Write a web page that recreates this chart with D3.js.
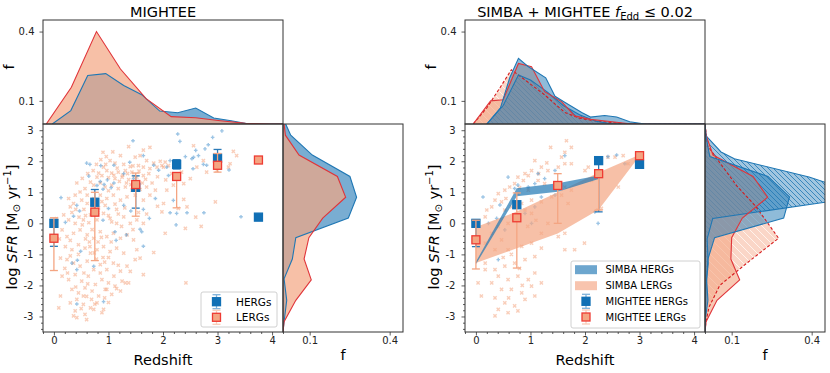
<!DOCTYPE html>
<html>
<head>
<meta charset="utf-8">
<script src="https://cdn.jsdelivr.net/npm/d3@7"></script>
<style>
body { margin:0; background:#fff; }
text { font-family: "DejaVu Sans", sans-serif; }
</style>
</head>
<body>
<div id="chart"></div>
<script>
// ---------- data ----------
// MIGHTEE medians per redshift bin
var herg_z  = [0, 0.75, 1.5, 2.25, 3, 3.75];
var herg_y  = [0, 0.68, 1.16, 1.9, 2.1, 0.2];
var herg_lo = [-0.74, 0.27, 0.49, 1.75, 1.95, null];
var herg_hi = [0.12, 1.09, 1.53, 2.05, 2.38, null];

var lerg_z  = [0, 0.75, 1.5, 2.25, 3, 3.75];
var lerg_y  = [-0.48, 0.36, 1.25, 1.51, 1.87, 2.04];
var lerg_lo = [-1.52, -1.2, 0.23, 0.5, 1.65, null];
var lerg_hi = [0.18, 1.0, 1.62, 1.6, 2.25, null];

// f_Edd <= 0.02 subset
var herg2_z  = [0, 0.75, 2.25, 3];
var herg2_y  = [0, 0.6, 2.02, 1.9];
var herg2_lo = [-0.75, 0.5, 0.37, null];
var herg2_hi = [0.1, 0.7, 2.1, null];

var lerg2_z  = [0, 0.75, 1.5, 2.25, 3];
var lerg2_y  = [-0.53, 0.18, 1.22, 1.6, 2.18];
var lerg2_lo = [-1.47, -1.44, 0.0, 0.43, null];
var lerg2_hi = [0.1, 0.98, 1.6, 1.7, null];

// SIMBA bands
var simbaHerg_z  = [0, 0.75, 1.5, 2.25];
var simbaHerg_lo = [-1.32, 0.87, 1.02, 1.43];
var simbaHerg_hi = [-1.24, 1.13, 1.29, 1.54];
var simbaLerg_z  = [0, 0.75, 1.5, 2.25, 3];
var simbaLerg_lo = [-1.28, -0.8, -0.33, 0.44, 2.17];
var simbaLerg_hi = [-0.12, 0.38, 1.0, 1.64, 2.21];

// redshift histograms [z, f]
var topHerg = [[-0.03,0],[0.31,0.058],[0.62,0.21],[0.95,0.218],[1.28,0.167],[1.61,0.127],[1.94,0.056],[2.27,0.049],[2.6,0.069],[2.93,0.026],[3.25,0.014],[3.58,0],[4.2,0]];
var topLerg = [[-0.14,0],[0.32,0.159],[0.78,0.40],[1.22,0.238],[1.69,0.11],[2.15,0.032],[2.6,0.027],[3.05,0.014],[3.51,0.003],[3.97,0],[4.2,0]];
var topHerg2 = [[0.2,0],[0.45,0.07],[0.62,0.2],[0.78,0.284],[0.95,0.25],[1.28,0.2],[1.45,0.12],[1.62,0.095],[1.94,0.05],[2.1,0.03],[2.36,0.037],[2.58,0.03],[2.82,0.01],[3.1,0],[4.2,0]];
var topLerg2 = [[-0.05,0],[0.27,0.1],[0.5,0.105],[0.78,0.262],[1.02,0.248],[1.26,0.14],[1.57,0.097],[1.81,0.035],[2.1,0.02],[2.5,0.01],[2.85,0],[4.2,0]];
var topSimbaHerg = [[0.2,0],[0.5,0.08],[0.78,0.212],[1.0,0.19],[1.3,0.14],[1.6,0.08],[1.9,0.04],[2.2,0.012],[2.5,0],[4.2,0]];
var topSimbaLerg = [[-0.05,0],[0.2,0.07],[0.45,0.16],[0.65,0.235],[0.96,0.18],[1.26,0.126],[1.63,0.05],[1.9,0.025],[2.3,0.01],[2.8,0],[4.2,0]];

// SFR histograms [logSFR, f]
var sideHerg = [[3.2,0.01],[2.84,0.029],[2.2,0.11],[1.51,0.251],[0.84,0.276],[0.17,0.245],[-0.46,0.048],[-1.15,0.035],[-1.79,0.004],[-2.48,0.014],[-3.17,0.004],[-3.5,0]];
var sideLerg = [[3.2,0.004],[2.84,0.009],[2.2,0.06],[1.51,0.204],[0.84,0.235],[0.17,0.149],[-0.46,0.097],[-1.15,0.079],[-1.82,0.106],[-2.48,0.048],[-3.17,0.004],[-3.5,0]];
var sideHerg2 = [[3.2,0],[2.84,0.003],[2.15,0.018],[1.51,0.236],[0.85,0.317],[0.17,0.295],[-0.46,0.036],[-1.15,0.011],[-1.79,0.006],[-2.48,0.011],[-3.17,0],[-3.5,0]];
var sideLerg2 = [[3.2,0],[2.84,0.004],[2.2,0.03],[1.51,0.18],[0.84,0.235],[0.17,0.14],[-0.46,0.1],[-1.15,0.097],[-1.82,0.13],[-2.48,0.045],[-3.17,0.004],[-3.5,0]];
var sideSimbaHerg = [[3.2,0],[2.82,0.004],[2.3,0.06],[2.08,0.11],[1.49,0.39],[1.05,0.55],[0.69,0.46],[0.16,0.029],[-0.5,0.008],[-1.3,0.012],[-2.0,0.004],[-3.2,0],[-3.5,0]];
var sideSimbaLerg = [[3.2,0],[2.5,0.01],[1.9,0.06],[1.2,0.12],[0.55,0.19],[-0.48,0.276],[-1.26,0.16],[-2.0,0.055],[-2.7,0.015],[-3.2,0.003],[-3.5,0]];

// individual sources [z, logSFR]
var ptsLerg = [[0.90,2.29],[1.37,2.47],[1.64,2.36],[1.76,2.45],[1.58,2.18],[1.49,2.13],[1.22,2.18],[1.70,2.02],[1.83,1.94],[1.95,2.0],[1.03,2.02],[1.12,1.94],[1.28,1.90],[1.40,1.83],[1.55,1.86],[1.64,1.81],[1.76,1.76],[1.89,1.81],[1.98,1.86],[0.91,1.81],[0.97,1.70],[1.06,1.62],[1.18,1.65],[1.31,1.70],[1.43,1.65],[0.79,1.49],[0.88,1.54],[1.0,1.47],[1.12,1.44],[1.25,1.49],[1.37,1.41],[1.52,1.49],[1.64,1.54],[0.67,1.33],[0.73,1.23],[0.85,1.30],[0.94,1.17],[1.06,1.23],[1.18,1.12],[1.31,1.17],[1.43,1.07],[1.58,1.09],[1.70,1.17],[1.86,1.07],[0.57,1.12],[0.48,1.01],[0.39,0.91],[0.61,0.91],[0.51,0.75],[0.36,0.64],[0.30,0.53],[0.61,0.64],[0.73,0.80],[0.85,0.91],[0.97,0.80],[1.09,0.91],[1.22,0.75],[1.34,0.85],[1.49,0.91],[1.64,0.75],[1.76,0.91],[1.98,0.37],[0.18,0.27],[0.27,0.11],[0.39,0.0],[0.54,0.11],[0.67,0.27],[0.79,0.11],[0.91,0.32],[1.03,0.16],[1.15,0.0],[1.28,0.21],[1.40,0.0],[1.52,0.11],[1.64,0.0],[0.15,-0.21],[0.24,-0.43],[0.36,-0.32],[0.48,-0.21],[0.61,-0.37],[0.73,-0.48],[0.85,-0.27],[0.97,-0.43],[1.09,-0.32],[1.22,-0.48],[1.34,-0.37],[1.46,-0.53],[0.21,-0.75],[0.33,-0.85],[0.45,-0.69],[0.57,-0.80],[0.67,-0.96],[0.79,-0.85],[0.91,-0.75],[1.03,-0.91],[1.15,-0.80],[1.28,-0.96],[1.52,-0.85],[1.58,-1.12],[0.12,-1.12],[0.24,-1.17],[0.36,-1.28],[0.48,-1.38],[0.61,-1.22],[0.73,-1.49],[0.85,-1.33],[0.97,-1.49],[1.09,-1.28],[1.22,-1.54],[1.34,-1.38],[0.15,-1.70],[0.27,-1.81],[0.39,-1.65],[0.51,-1.86],[0.63,-1.70],[0.76,-1.97],[0.88,-1.81],[1.0,-1.92],[1.12,-2.02],[1.25,-1.86],[1.37,-1.92],[1.64,-1.65],[0.33,-2.13],[0.45,-2.24],[0.57,-2.08],[0.70,-2.18],[0.82,-2.34],[0.94,-2.13],[1.06,-2.29],[0.12,-2.34],[0.30,-2.56],[0.42,-2.45],[0.54,-2.61],[0.67,-2.72],[0.79,-2.56],[0.91,-2.77],[0.54,-2.34],[0.39,-2.82],[0.57,-2.93],[0.73,-2.77],[0.88,-2.88],[0.36,-2.98],[0.42,-3.04],[0.97,-2.13],[1.22,-2.18],[0.09,-2.72],[1.31,-1.92],[1.49,-1.17],
  [2.56,2.50],[2.04,1.97],[2.01,1.81],[2.10,1.86],[2.16,1.60],[2.34,1.65],[2.38,1.28],[2.50,1.44],[2.62,1.81],[2.80,1.65],[2.96,0.69],[3.23,1.92],[3.29,2.32],[3.35,2.18],[2.04,-0.32],[2.41,-0.16],[2.44,0.53],[2.38,0.77],[2.28,0.48],[2.42,-1.92],[3.2,1.81],[2.99,1.7],[2.74,2.02],[2.25,1.97],[2.07,1.07],[2.19,1.23],[2.01,0.64],
  [2.7,-0.1],[1.83,-0.94],[2.6,0.2],[0.05,0.15],[0.1,-0.5],[0.82,1.62],[0.95,1.9],[1.1,1.55],[1.2,1.35],[1.35,1.6],[1.45,1.85],[1.0,1.05],[0.7,0.55],[0.8,0.35],[0.55,0.45],[1.15,0.45],[1.3,0.5],[0.45,-1.0],[0.65,-0.6],[0.9,-1.1],[1.05,-0.6],[0.3,-0.55],[0.2,-1.45],[0.6,-2.35],[0.78,-1.15],
  [0.42,1.3],[0.52,1.45],[0.62,1.6],[0.72,1.7],[0.78,1.9],[0.86,2.05],[0.96,2.15],[1.08,2.3],[1.16,1.78],[1.26,1.55],[1.33,1.3],[1.41,1.25],[1.47,1.52],[1.56,1.68],[1.62,1.3],[1.68,1.42],[1.74,1.6],[1.8,1.3],[0.58,0.25],[0.64,0.02],[0.7,-0.2],[0.76,0.6],[0.82,0.5],[0.88,0.7],[0.94,0.58],[1.0,0.25],[1.06,0.05],[1.12,0.62],[1.18,0.3],[1.24,-0.1],[0.27,0.8],[0.33,0.35],[0.4,0.45],[0.46,0.2],[0.52,-0.05],[0.58,-0.5],[0.66,-0.75],[0.74,-0.95],[0.81,-0.6],[0.87,-0.45],[0.93,-1.25],[1.0,-1.1],[1.1,-1.7],[1.18,-1.35],[0.55,-1.6],[0.62,-1.95],[0.69,-2.45],[0.75,-2.6],[0.85,-1.6],[0.93,-2.4],[0.3,-1.05],[0.25,-1.6],[0.4,-2.05],[0.5,-2.75],[0.6,-3.1],[1.0,-2.55],[1.15,-2.1],[1.4,-1.55],[1.45,-0.2],[1.55,0.35],[1.7,0.3],[1.9,0.55],[1.9,1.5],[2.05,1.4]];
var ptsHerg = [[1.45,2.66],[0.6,1.94],[0.66,1.9],[0.86,1.86],[1.1,1.87],[1.28,1.6],[0.64,1.52],[0.79,1.22],[0.85,1.35],[0.92,1.25],[0.98,1.4],[1.05,1.15],[1.1,1.3],[0.9,1.1],[0.13,0.83],[0.42,0.58],[0.47,0.4],[0.36,0.23],[0.21,0.03],[0.9,0.1],[1.0,0.48],[1.28,0.58],[1.41,0.4],[1.64,0.45],[1.75,0.16],[1.58,-0.19],[1.61,-0.27],[1.33,-0.37],[1.12,-0.27],[1.14,-0.55],[1.64,-0.74],[0.49,-0.9],[0.43,-1.19],[0.42,-1.49],[0.33,-1.28],[0.73,-1.38],[0.91,-2.52],[0.42,-2.6],[1.86,0.8],[1.92,1.71],[1.83,1.87],[1.64,2.18],[1.46,1.44],[1.39,1.97],[2.27,2.88],[2.31,2.64],[3.08,2.98],[2.91,2.77],[2.83,2.53],[2.77,2.4],[2.65,2.18],[2.56,2.13],[2.53,2.08],[2.41,2.15],[2.74,1.9],[2.8,1.87],[2.55,1.76],[2.13,2.02],[2.07,1.81],[2.1,1.54],[2.19,0.74],[2.13,0.34],[2.25,0.32],[2.44,0.34],[2.75,0.34],[3.43,0.21],[2.24,-0.05],[3.21,1.72],[2.6,2.35]];
var ptsLerg2 = [[1.66,2.66],[1.37,2.45],[1.75,2.45],[1.63,2.29],[1.57,2.13],[1.75,1.92],[1.63,1.92],[1.51,1.81],[1.32,1.70],[1.20,1.81],[1.08,2.02],[1.02,1.70],[0.96,1.54],[0.87,1.38],[0.77,1.49],[0.71,1.28],[0.62,1.17],[0.53,1.07],[0.41,0.96],[0.35,0.75],[0.47,0.69],[0.29,0.53],[0.20,0.43],[0.17,0.21],[0.53,0.43],[0.65,0.53],[0.84,0.64],[1.02,0.75],[1.20,0.69],[1.39,0.85],[1.57,0.91],[1.69,0.64],[1.75,1.07],[1.63,1.17],[1.26,1.28],[1.14,1.38],[0.96,1.07],[0.77,0.96],[0.90,0.43],[1.02,0.32],[0.71,0.11],[0.59,0.0],[0.41,-0.11],[0.29,-0.32],[0.47,-0.53],[0.17,-0.64],[0.35,-0.85],[0.59,-0.85],[0.84,-0.74],[1.02,-0.64],[1.20,-0.80],[1.08,-1.07],[0.90,-1.17],[0.71,-1.28],[0.53,-1.38],[0.35,-1.49],[0.17,-1.28],[0.41,-1.70],[0.59,-1.81],[0.77,-1.70],[0.96,-1.81],[1.08,-1.60],[0.29,-1.92],[0.47,-2.13],[0.65,-2.13],[0.84,-2.24],[1.02,-2.02],[1.20,-1.92],[0.10,-2.34],[0.35,-2.40],[0.53,-2.56],[0.71,-2.66],[0.90,-2.45],[1.08,-2.34],[0.41,-2.77],[0.59,-2.88],[0.35,-2.98],[0.77,-2.82],[1.63,-0.85],[1.81,-0.85],[1.99,-0.64],[1.63,-0.32],[1.32,0.0],[1.51,-0.43],[1.20,-0.32],[0.04,-1.92],[0.17,-1.49],[2.42,2.13],[2.55,2.13],[2.70,2.18],[2.79,1.92],[2.61,1.17],[2.24,0.43],[2.30,0.48],[2.0,1.70],[2.06,1.81],[2.12,1.38],
  [0.8,1.15],[0.9,1.6],[1.15,1.6],[1.3,1.95],[1.45,1.3],[0.55,0.8],[0.75,0.25],[0.95,-0.1],[1.1,0.1],[0.65,-1.0],[0.8,-1.45],[0.5,-1.1],[0.6,-2.4],[0.85,-2.0]];
var ptsHerg2 = [[0.13,0.85],[0.59,1.49],[0.71,1.12],[0.77,1.23],[0.96,1.17],[1.08,1.28],[1.14,1.60],[1.26,1.44],[1.45,1.70],[1.63,2.18],[0.44,0.59],[0.38,0.16],[0.23,0.0],[0.53,-0.21],[0.41,-1.17],[1.08,0.53],[0.90,0.32],[1.02,0.0],[1.45,0.91],[1.20,0.85],[2.42,2.15],[2.58,2.2],[2.73,1.92],[2.24,0.0],[2.18,0.37]];

// ---------- layout ----------
var W = 830, H = 373;
var yMain = d3.scaleLinear().domain([-3.5, 3.2]).range([332, 124]);
var yTop = d3.scaleLinear().domain([0, 0.45]).range([124, 20]);

var BLUE = "#1f77b4", ORANGE = "#f4a582", RED = "#e0353a", MARK = "#1170b5";

var svg = d3.select("#chart").append("svg").attr("width", W).attr("height", H);
var defs = svg.append("defs");

function hatch(id, bg, bgOp, line, gap, lw) {
    var p = defs.append("pattern").attr("id", id)
        .attr("patternUnits", "userSpaceOnUse")
        .attr("width", gap).attr("height", gap);
    p.append("rect").attr("width", gap).attr("height", gap)
        .attr("fill", bg).attr("fill-opacity", bgOp);
    p.append("path")
        .attr("d", "M0,0L"+gap+","+gap+"M-1,"+(gap-1)+"L1,"+(gap+1)+"M"+(gap-1)+",-1L"+(gap+1)+",1")
        .attr("stroke", line).attr("stroke-width", lw);
}
hatch("hatchB", BLUE, 0.42, BLUE, 5, 0.8);
hatch("hatchO", ORANGE, 0.45, "#fff3ec", 8, 1);

function clip(id, x, y, w, h) {
    defs.append("clipPath").attr("id", id)
        .append("rect").attr("x", x).attr("y", y).attr("width", w).attr("height", h);
}

function errPoints(g, x, zs, ys, lo, hi, col) {
    zs.forEach(function(z, i) {
        if (lo[i] == null) return;
        var cx = x(z);
        g.append("line").attr("x1", cx).attr("x2", cx)
            .attr("y1", yMain(lo[i])).attr("y2", yMain(hi[i]))
            .attr("stroke", col).attr("stroke-width", 1.3);
        [lo[i], hi[i]].forEach(function(v) {
            g.append("line").attr("x1", cx-4).attr("x2", cx+4)
                .attr("y1", yMain(v)).attr("y2", yMain(v))
                .attr("stroke", col).attr("stroke-width", 1.3);
        });
    });
}

function squares(g, x, zs, ys, fill, stroke) {
    g.selectAll(null).data(zs).enter().append("rect")
        .attr("x", function(d){ return x(d) - 4; })
        .attr("y", function(d, i){ return yMain(ys[i]) - 4; })
        .attr("width", 8).attr("height", 8)
        .attr("fill", fill).attr("stroke", stroke).attr("stroke-width", 1.3);
}

function scatter(g, x, pts, shape, col, op) {
    var d = shape == "x" ? "M-1.6,-1.6L1.6,1.6M-1.6,1.6L1.6,-1.6" : "M-1.8,0H1.8M0,-1.8V1.8";
    g.selectAll(null).data(pts).enter().append("path")
        .attr("transform", function(p){ return "translate("+x(p[0])+","+yMain(p[1])+")"; })
        .attr("d", d).attr("stroke", col).attr("stroke-width", 1.4)
        .attr("stroke-opacity", op).attr("fill", "none");
}

function fmtInt(d) { return String(d); }

function styleAxis(g) {
    g.select(".domain").remove();
    g.selectAll("line").attr("stroke", "#333").attr("stroke-width", 0.8);
    g.selectAll("text").attr("font-size", 10).attr("fill", "#222")
        .attr("font-family", "DejaVu Sans, sans-serif");
}

function drawPanel(o) {
    var x = d3.scaleLinear().domain([-0.2, 4.2]).range([o.left, o.left + 240]);
    var side = d3.scaleLinear().domain([0, 0.45]).range([o.left + 240, o.left + 360]);
    var L = o.left, R = o.left + 240, id = o.id;

    clip(id+"main", L, 124, 240, 208);
    clip(id+"top", L, 20, 240, 104);
    clip(id+"side", R, 124, 120, 208);

    // ---- top histogram ----
    var gt = svg.append("g").attr("clip-path", "url(#"+id+"top)");
    var area = d3.area().x(function(d){ return x(d[0]); }).y0(yTop(0)).y1(function(d){ return yTop(d[1]); });
    var line = d3.line().x(function(d){ return x(d[0]); }).y(function(d){ return yTop(d[1]); });
    o.hists.forEach(function(h) {
        gt.append("path").datum(h.top).attr("d", area)
            .attr("fill", h.fill).attr("fill-opacity", h.op);
    });
    o.hists.forEach(function(h) {
        gt.append("path").datum(h.top).attr("d", line).attr("fill", "none")
            .attr("stroke", h.stroke).attr("stroke-width", 1.1)
            .attr("stroke-dasharray", h.dash || null);
    });

    // ---- side histogram ----
    var gs = svg.append("g").attr("clip-path", "url(#"+id+"side)");
    var areaS = d3.area().y(function(d){ return yMain(d[0]); }).x0(side(0)).x1(function(d){ return side(d[1]); });
    var lineS = d3.line().y(function(d){ return yMain(d[0]); }).x(function(d){ return side(d[1]); });
    o.hists.forEach(function(h) {
        gs.append("path").datum(h.side).attr("d", areaS)
            .attr("fill", h.fill).attr("fill-opacity", h.op);
    });
    o.hists.forEach(function(h) {
        gs.append("path").datum(h.side).attr("d", lineS).attr("fill", "none")
            .attr("stroke", h.stroke).attr("stroke-width", 1.1)
            .attr("stroke-dasharray", h.dash || null);
    });

    // ---- main panel ----
    var gm = svg.append("g").attr("clip-path", "url(#"+id+"main)");
    scatter(gm, x, o.ptsL, "x", ORANGE, 0.55);
    scatter(gm, x, o.ptsH, "+", "#3c8ccc", 0.5);
    if (o.bands) {
        var bandL = d3.area().x(function(d, i){ return x(simbaLerg_z[i]); })
            .y0(function(d, i){ return yMain(simbaLerg_lo[i]); })
            .y1(function(d, i){ return yMain(simbaLerg_hi[i]); });
        gm.append("path").datum(simbaLerg_z).attr("d", bandL)
            .attr("fill", ORANGE).attr("fill-opacity", 0.7);
        var bandH = d3.area().x(function(d, i){ return x(simbaHerg_z[i]); })
            .y0(function(d, i){ return yMain(simbaHerg_lo[i]); })
            .y1(function(d, i){ return yMain(simbaHerg_hi[i]); });
        gm.append("path").datum(simbaHerg_z).attr("d", bandH)
            .attr("fill", BLUE).attr("fill-opacity", 0.7);
    }
    errPoints(gm, x, o.hz, o.hy, o.hlo, o.hhi, "#2a7ab8");
    squares(gm, x, o.hz, o.hy, MARK, MARK);
    errPoints(gm, x, o.lz, o.ly, o.llo, o.lhi, ORANGE);
    squares(gm, x, o.lz, o.ly, ORANGE, "#ee3b33");

    // ---- axes ----
    var major = [0, 1, 2, 3, 4];
    var minorX = d3.range(-0.2, 4.21, 0.2).filter(function(v){ return Math.abs(v - Math.round(v)) > 0.05; });
    svg.append("g").attr("transform", "translate(0,332)")
        .call(d3.axisBottom(x).tickValues(major).tickFormat(fmtInt).tickSize(3.5).tickPadding(1.5))
        .call(styleAxis);
    svg.append("g").attr("transform", "translate(0,332)")
        .call(d3.axisBottom(x).tickValues(minorX).tickFormat("").tickSize(2))
        .call(styleAxis);
    var minorY = d3.range(-3.4, 3.2, 0.2).filter(function(v){ return Math.abs(v - Math.round(v)) > 0.05; });
    svg.append("g").attr("transform", "translate("+L+",0)")
        .call(d3.axisLeft(yMain).tickValues([-3,-2,-1,0,1,2,3]).tickFormat(fmtInt).tickSize(3.5).tickPadding(6))
        .call(styleAxis);
    svg.append("g").attr("transform", "translate("+L+",0)")
        .call(d3.axisLeft(yMain).tickValues(minorY).tickFormat("").tickSize(2))
        .call(styleAxis);
    svg.append("g").attr("transform", "translate("+L+",0)")
        .call(d3.axisLeft(yTop).tickValues([0.1, 0.4]).tickFormat(d3.format(".1f")).tickSize(3.5).tickPadding(5))
        .call(styleAxis);
    svg.append("g").attr("transform", "translate(0,332)")
        .call(d3.axisBottom(side).tickValues([0.1, 0.4]).tickFormat(d3.format(".1f")).tickSize(3.5).tickPadding(1.5))
        .call(styleAxis);

    // frames
    [[L, 20, 240, 104], [L, 124, 240, 208], [R, 124, 120, 208]].forEach(function(b) {
        svg.append("rect").attr("x", b[0]).attr("y", b[1]).attr("width", b[2]).attr("height", b[3])
            .attr("fill", "none").attr("stroke", "#333").attr("stroke-width", 1);
    });

    // labels
    svg.append("text").attr("x", (L+R)/2).attr("y", 365).attr("text-anchor", "middle")
        .attr("font-size", 14.5).text("Redshift");
    svg.append("text").attr("x", side(0.225)).attr("y", 360).attr("text-anchor", "middle")
        .attr("font-size", 14.5).text("f");
    svg.append("text").attr("transform", "translate("+(L-29)+",67) rotate(-90)")
        .attr("text-anchor", "middle").attr("font-size", 14.5).text("f");
    var yl = svg.append("text").attr("transform", "translate("+(L-26)+",227) rotate(-90)")
        .attr("text-anchor", "middle").attr("font-size", 14.5);
    yl.append("tspan").text("log ");
    yl.append("tspan").attr("font-style", "italic").text("SFR");
    yl.append("tspan").text(" [M");
    yl.append("tspan").attr("font-size", 10).attr("dy", 3).text("\u2299");
    yl.append("tspan").attr("dy", -3).text(" yr");
    yl.append("tspan").attr("font-size", 10).attr("dy", -6).text("\u22121");
    yl.append("tspan").attr("dy", 6).text("]");

    return x;
}

// ---------- left panel ----------
drawPanel({
    id: "a", left: 43,
    hists: [
        {top: topHerg, side: sideHerg, fill: BLUE, op: 0.6, stroke: BLUE},
        {top: topLerg, side: sideLerg, fill: ORANGE, op: 0.7, stroke: RED}
    ],
    ptsL: ptsLerg, ptsH: ptsHerg,
    hz: herg_z, hy: herg_y, hlo: herg_lo, hhi: herg_hi,
    lz: lerg_z, ly: lerg_y, llo: lerg_lo, lhi: lerg_hi
});
svg.append("text").attr("x", 163).attr("y", 16.5).attr("text-anchor", "middle")
    .attr("font-size", 14.5).text("MIGHTEE");

// ---------- right panel ----------
drawPanel({
    id: "b", left: 465,
    hists: [
        {top: topSimbaLerg, side: sideSimbaLerg, fill: "url(#hatchO)", op: 1, stroke: "#d7191c", dash: "3,2"},
        {top: topSimbaHerg, side: sideSimbaHerg, fill: "url(#hatchB)", op: 1, stroke: BLUE},
        {top: topLerg2, side: sideLerg2, fill: ORANGE, op: 0.6, stroke: RED},
        {top: topHerg2, side: sideHerg2, fill: BLUE, op: 0.5, stroke: BLUE}
    ],
    bands: true,
    ptsL: ptsLerg2, ptsH: ptsHerg2,
    hz: herg2_z, hy: herg2_y, hlo: herg2_lo, hhi: herg2_hi,
    lz: lerg2_z, ly: lerg2_y, llo: lerg2_lo, lhi: lerg2_hi
});
var tt = svg.append("text").attr("x", 585).attr("y", 16.5).attr("text-anchor", "middle").attr("font-size", 14.5);
tt.append("tspan").text("SIMBA + MIGHTEE ");
tt.append("tspan").attr("font-style", "italic").text("f");
tt.append("tspan").attr("font-size", 10).attr("dy", 3).text("Edd");
tt.append("tspan").attr("dy", -3).text(" \u2264 0.02");

// ---------- legends ----------
function legendMarker(g, cx, cy, fill, stroke, ecol) {
    g.append("line").attr("x1", cx).attr("x2", cx).attr("y1", cy-7).attr("y2", cy+7)
        .attr("stroke", ecol).attr("stroke-width", 1.3);
    [cy-7, cy+7].forEach(function(v) {
        g.append("line").attr("x1", cx-4).attr("x2", cx+4).attr("y1", v).attr("y2", v)
            .attr("stroke", ecol).attr("stroke-width", 1.3);
    });
    g.append("rect").attr("x", cx-4).attr("y", cy-4).attr("width", 8).attr("height", 8)
        .attr("fill", fill).attr("stroke", stroke).attr("stroke-width", 1.3);
}

var lg = svg.append("g");
lg.append("rect").attr("x", 201).attr("y", 292).attr("width", 76).attr("height", 35).attr("rx", 2)
    .attr("fill", "#fff").attr("fill-opacity", 0.85).attr("stroke", "#d0d0d0");
legendMarker(lg, 216.5, 301.7, MARK, MARK, "#7fb2da");
legendMarker(lg, 216.5, 317.3, ORANGE, "#ee3b33", "#f9cdb8");
lg.append("text").attr("x", 236).attr("y", 305.5).attr("font-size", 10.5).text("HERGs");
lg.append("text").attr("x", 236).attr("y", 321).attr("font-size", 10.5).text("LERGs");

var lg2 = svg.append("g");
lg2.append("rect").attr("x", 571).attr("y", 261).attr("width", 129).attr("height", 67).attr("rx", 2)
    .attr("fill", "#fff").attr("fill-opacity", 0.85).attr("stroke", "#d0d0d0");
lg2.append("rect").attr("x", 575).attr("y", 265.2).attr("width", 22).attr("height", 9)
    .attr("fill", BLUE).attr("fill-opacity", 0.65);
lg2.append("rect").attr("x", 575).attr("y", 281.2).attr("width", 22).attr("height", 9)
    .attr("fill", ORANGE).attr("fill-opacity", 0.65);
legendMarker(lg2, 586, 301.3, MARK, MARK, "#7fb2da");
legendMarker(lg2, 586, 317, ORANGE, "#ee3b33", "#f9cdb8");
[["SIMBA HERGs", 269.7], ["SIMBA LERGs", 285.7], ["MIGHTEE HERGs", 301.3], ["MIGHTEE LERGs", 317]].forEach(function(e) {
    lg2.append("text").attr("x", 605.5).attr("y", e[1] + 3.7).attr("font-size", 10).text(e[0]);
});
</script>
</body>
</html>
